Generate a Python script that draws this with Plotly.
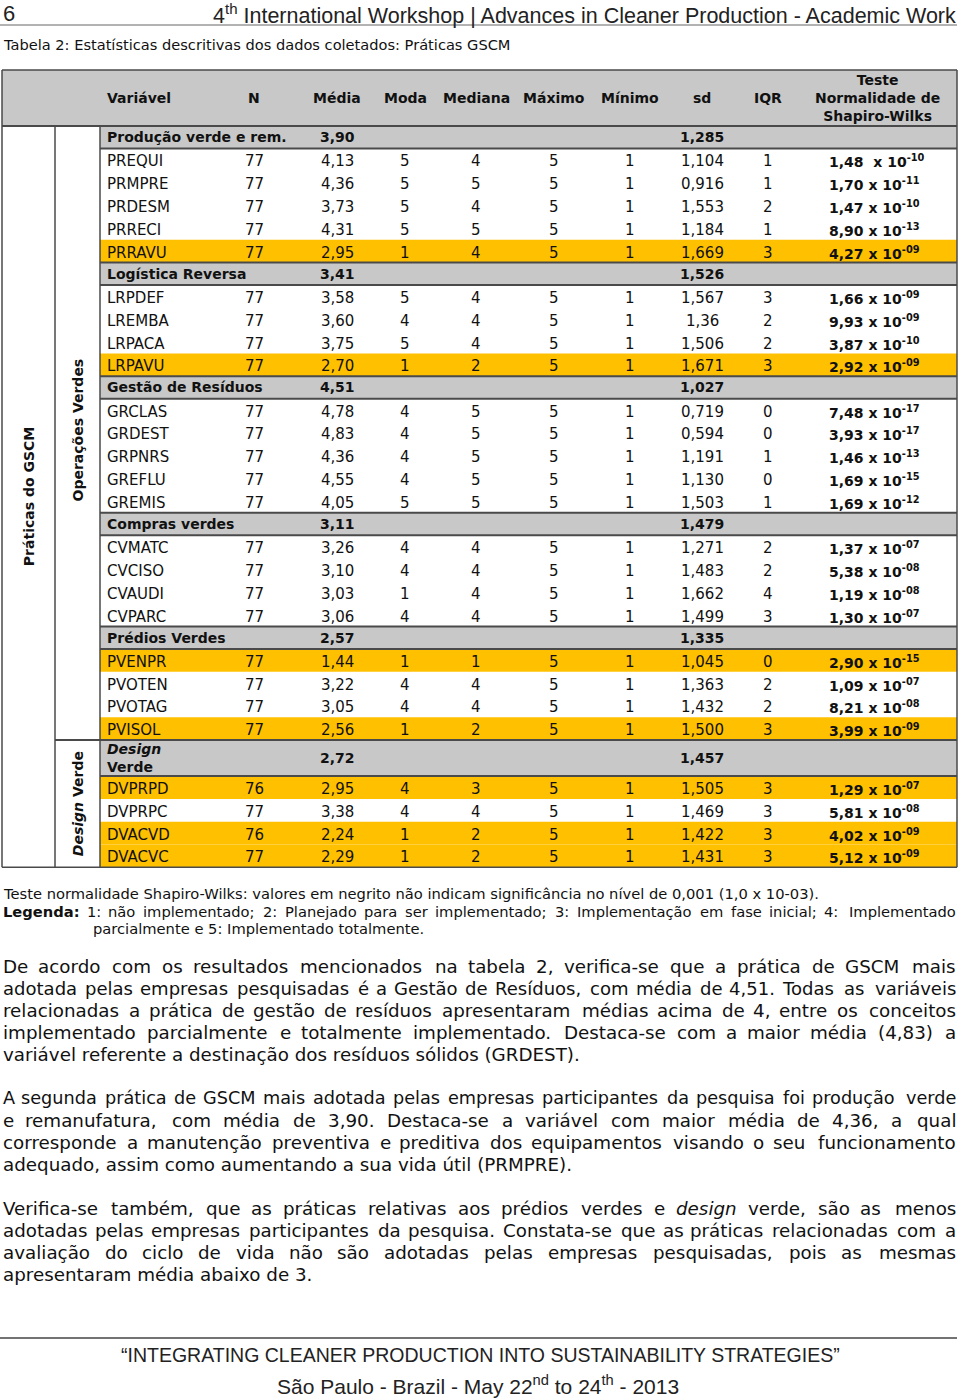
import unicodedata
import re
import plotly.graph_objects as go

# ---------------- data ----------------
col_headers = ["Variável", "N", "Média", "Moda", "Mediana", "Máximo", "Mínimo", "sd", "IQR",
               "Teste<br>Normalidade de<br>Shapiro-Wilks"]

group_names = ["Produção verde e rem.", "Logística Reversa", "Gestão de Resíduos",
               "Compras verdes", "Prédios Verdes", "<i>Design</i><br>Verde"]
group_media = ["3,90", "3,41", "4,51", "3,11", "2,57", "2,72"]
group_sd = ["1,285", "1,526", "1,027", "1,479", "1,335", "1,457"]
group_sizes = [5, 4, 5, 4, 4, 4]

variables = ["PREQUI", "PRMPRE", "PRDESM", "PRRECI", "PRRAVU",
             "LRPDEF", "LREMBA", "LRPACA", "LRPAVU",
             "GRCLAS", "GRDEST", "GRPNRS", "GREFLU", "GREMIS",
             "CVMATC", "CVCISO", "CVAUDI", "CVPARC",
             "PVENPR", "PVOTEN", "PVOTAG", "PVISOL",
             "DVPRPD", "DVPRPC", "DVACVD", "DVACVC"]
n_obs = ["77", "77", "77", "77", "77",
         "77", "77", "77", "77",
         "77", "77", "77", "77", "77",
         "77", "77", "77", "77",
         "77", "77", "77", "77",
         "76", "77", "76", "77"]
media = ["4,13", "4,36", "3,73", "4,31", "2,95",
         "3,58", "3,60", "3,75", "2,70",
         "4,78", "4,83", "4,36", "4,55", "4,05",
         "3,26", "3,10", "3,03", "3,06",
         "1,44", "3,22", "3,05", "2,56",
         "2,95", "3,38", "2,24", "2,29"]
moda = ["5", "5", "5", "5", "1",
        "5", "4", "5", "1",
        "4", "4", "4", "4", "5",
        "4", "4", "1", "4",
        "1", "4", "4", "1",
        "4", "4", "1", "1"]
mediana = ["4", "5", "4", "5", "4",
           "4", "4", "4", "2",
           "5", "5", "5", "5", "5",
           "4", "4", "4", "4",
           "1", "4", "4", "2",
           "3", "4", "2", "2"]
maximo = ["5"] * 26
minimo = ["1"] * 26
sd = ["1,104", "0,916", "1,553", "1,184", "1,669",
      "1,567", "1,36", "1,506", "1,671",
      "0,719", "0,594", "1,191", "1,130", "1,503",
      "1,271", "1,483", "1,662", "1,499",
      "1,045", "1,363", "1,432", "1,500",
      "1,505", "1,469", "1,422", "1,431"]
iqr = ["1", "1", "2", "1", "3",
       "3", "2", "2", "3",
       "0", "0", "1", "0", "1",
       "2", "2", "4", "3",
       "0", "2", "2", "3",
       "3", "3", "3", "3"]
sw_mantissa = ["1,48 ", "1,70", "1,47", "8,90", "4,27",
               "1,66", "9,93", "3,87", "2,92",
               "7,48", "3,93", "1,46", "1,69", "1,69",
               "1,37", "5,38", "1,19", "1,30",
               "2,90", "1,09", "8,21", "3,99",
               "1,29", "5,81", "4,02", "5,12"]
sw_exponent = ["-10", "-11", "-10", "-13", "-09",
               "-09", "-09", "-10", "-09",
               "-17", "-17", "-13", "-15", "-12",
               "-07", "-08", "-08", "-07",
               "-15", "-07", "-08", "-09",
               "-07", "-08", "-09", "-09"]
highlighted = ["PRRAVU", "LRPAVU", "PVENPR", "PVISOL", "DVPRPD", "DVACVD", "DVACVC"]

outer_label = "Práticas do GSCM"
section_labels = ["Operações Verdes", "<i>Design</i> Verde"]
section_group_counts = [5, 1]

page_number = "6"
header_title = "4<sup>th</sup> International Workshop | Advances in Cleaner Production - Academic Work"
caption = "Tabela 2: Estatísticas descritivas dos dados coletados: Práticas GSCM"
note_line = ("Teste normalidade Shapiro-Wilks: valores em negrito não indicam significância "
             "no nível de 0,001 (1,0 x 10-03).")
legend_lines = ["<b>Legenda:</b> 1: não implementado; 2: Planejado para ser implementado; "
                "3: Implementação em fase inicial; 4: Implementado",
                "parcialmente e 5: Implementado totalmente."]
paragraphs = [
    ["De acordo com os resultados mencionados na tabela 2, verifica-se que a prática de GSCM mais",
     "adotada pelas empresas pesquisadas é a Gestão de Resíduos, com média de 4,51. Todas as variáveis",
     "relacionadas a prática de gestão de resíduos apresentaram médias acima de 4, entre os conceitos",
     "implementado parcialmente e totalmente implementado.  Destaca-se com a maior média (4,83) a",
     "variável referente a destinação dos resíduos sólidos (GRDEST)."],
    ["A segunda prática de GSCM mais adotada pelas empresas participantes da pesquisa foi produção verde",
     "e remanufatura, com média de 3,90. Destaca-se a variável com maior média de 4,36, a qual",
     "corresponde a manutenção preventiva e preditiva dos equipamentos visando o seu funcionamento",
     "adequado, assim como aumentando a sua vida útil (PRMPRE)."],
    ["Verifica-se também, que as práticas relativas aos prédios verdes e <i>design</i> verde, são as menos",
     "adotadas pelas empresas participantes da pesquisa. Constata-se que as práticas relacionadas com a",
     "avaliação do ciclo de vida não são adotadas pelas empresas pesquisadas, pois as mesmas",
     "apresentaram média abaixo de 3."],
]
footer_lines = ["\u201cINTEGRATING CLEANER PRODUCTION INTO SUSTAINABILITY STRATEGIES\u201d",
                "São Paulo - Brazil - May 22<sup>nd</sup> to 24<sup>th</sup> - 2013"]

# ---------------- style / layout ----------------
W, H = 960, 1400
FONT = "DejaVu Sans, Verdana, sans-serif"
NARROW = "Liberation Sans, Arial, sans-serif"
INK = "#111111"
GRAY = "#C8C8C8"
YELLOW = "#FFC000"
LINE = "#4a4a4a"

TX0, TX1 = 2, 957          # table outer x
C1, C2 = 55, 100            # inner vertical lines
TOP, HEAD_BOT = 70, 126
GROUP_H, DESIGN_H, ROW_H = 22.5, 36, 22.8
TFS = 15                    # table font size (regular)
BFS = 14                    # table font size (bold)
col_centers = [None, 254, 337, 405, 476, 554, 630, 702, 768]
VAR_X = 107
SW_X = 829
SW_CENTER = 877
PAD = 2.5                   # annotation inner padding compensation

shapes = []
ann = []


def text(x, y, s, size=TFS, xanchor="left", yanchor="middle", family=FONT, color=INK, angle=0,
         align="left", bold=False):
    if angle == 0:
        if xanchor == "left":
            x -= PAD
        elif xanchor == "right":
            x += PAD
    ann.append(dict(x=x, y=y, xref="x", yref="y", text=s, showarrow=False, xanchor=xanchor,
                    yanchor=yanchor, align=align, textangle=angle,
                    font=dict(family=family, size=size, color=color,
                              weight="bold" if bold else "normal")))


def rect(x0, y0, x1, y1, fill, line_color=None, width=0):
    shapes.append(dict(type="rect", xref="x", yref="y", x0=x0, y0=y0, x1=x1, y1=y1,
                       fillcolor=fill, line=dict(width=width, color=line_color or fill), layer="below"))


def hline(x0, x1, y, color=LINE, width=1.5):
    shapes.append(dict(type="line", xref="x", yref="y", x0=x0, x1=x1, y0=y, y1=y,
                       line=dict(color=color, width=width)))


def vline(x, y0, y1, color=LINE, width=1.5):
    shapes.append(dict(type="line", xref="x", yref="y", x0=x, x1=x, y0=y0, y1=y1,
                       line=dict(color=color, width=width)))


# ---------------- page header ----------------
text(3, 13, page_number, size=22, family=NARROW, color="#222")
text(955, 14, header_title, size=21.5, family=NARROW, color="#222", xanchor="right")
hline(0, 957, 25, color="#666", width=1)
text(3, 44, caption, size=14.6)

# ---------------- table ----------------
rect(TX0, TOP, TX1, HEAD_BOT, GRAY)
text(VAR_X, 98, col_headers[0], size=BFS, bold=True)
for i in range(1, 9):
    text(col_centers[i], 98, col_headers[i], size=BFS, xanchor="center", bold=True)
text(SW_CENTER, 98, col_headers[9], size=BFS, xanchor="center", align="center", bold=True)

y = HEAD_BOT
k = 0
group_bounds = []
for g, name in enumerate(group_names):
    gh = DESIGN_H if "<br>" in name else GROUP_H
    rect(C2, y, TX1, y + gh, GRAY)
    cy = y + gh / 2
    text(VAR_X, cy, name, size=BFS, bold=True)
    text(col_centers[2], cy, group_media[g], size=BFS, xanchor="center", bold=True)
    text(col_centers[7], cy, group_sd[g], size=BFS, xanchor="center", bold=True)
    group_bounds.append((y, y + gh))
    y += gh
    for r in range(group_sizes[g]):
        if variables[k] in highlighted:
            rect(C2, y, TX1, y + ROW_H, YELLOW)
        cy = y + ROW_H / 2 + 1.5
        vals = [n_obs[k], media[k], moda[k], mediana[k], maximo[k], minimo[k], sd[k], iqr[k]]
        text(VAR_X, cy, variables[k])
        for j, v in enumerate(vals):
            text(col_centers[j + 1], cy, v, xanchor="center")
        text(SW_X, cy, "%s x 10<sup>%s</sup>" % (sw_mantissa[k], sw_exponent[k]), size=BFS, bold=True)
        y += ROW_H
        k += 1
TBOT = y

for (a, b) in group_bounds:
    hline(C2, TX1, a, width=2)
    hline(C2, TX1, b, width=2)

# section split in column 2
split_y = group_bounds[section_group_counts[0]][0]
hline(C1, C2, split_y, width=2)

# outer frame & verticals
hline(TX0, TX1, TOP, width=1.5)
hline(TX0, TX1, HEAD_BOT, width=2)
hline(TX0, TX1, TBOT, width=1.5)
vline(TX0, TOP, TBOT)
vline(TX1, TOP, TBOT)
vline(C1, HEAD_BOT, TBOT)
vline(C2, HEAD_BOT, TBOT)

# rotated labels
text((TX0 + C1) / 2, (HEAD_BOT + TBOT) / 2, outer_label, size=BFS, xanchor="center", angle=-90, bold=True)
text((C1 + C2) / 2, 430, section_labels[0], size=BFS, xanchor="center", angle=-90, bold=True)
text((C1 + C2) / 2, (split_y + TBOT) / 2, section_labels[1], size=BFS, xanchor="center", angle=-90, bold=True)

# ---------------- notes ----------------
CW = {' ': .318, '!': .401, '(': .390, ')': .390, ',': .318, '-': .361, '.': .318, ':': .337, ';': .337,
      'A': .684, 'B': .686, 'C': .698, 'D': .770, 'E': .632, 'F': .575, 'G': .775, 'H': .752, 'I': .295,
      'J': .295, 'K': .656, 'L': .557, 'M': .863, 'N': .748, 'O': .787, 'P': .603, 'Q': .787, 'R': .695,
      'S': .635, 'T': .611, 'U': .732, 'V': .684, 'W': .989, 'X': .685, 'Y': .611, 'Z': .685,
      'a': .613, 'b': .635, 'c': .550, 'd': .635, 'e': .615, 'f': .352, 'g': .635, 'h': .634, 'i': .278,
      'j': .278, 'k': .579, 'l': .278, 'm': .974, 'n': .634, 'o': .612, 'p': .635, 'q': .635, 'r': .411,
      's': .521, 't': .392, 'u': .634, 'v': .592, 'w': .818, 'x': .592, 'y': .592, 'z': .525}


def width_of(word, size):
    bold = "<b>" in word
    plain = re.sub(r"<[^>]+>", "", word)
    plain = unicodedata.normalize("NFD", plain)
    w = sum(CW.get(c, 0.636 if c.isdigit() else 0.0) for c in plain if not unicodedata.combining(c))
    return w * size * (1.12 if bold else 1.0) * 1.02


def justified(line, y, x0, x1, size):
    words = line.split()
    avail = x1 - x0
    natural = sum(width_of(w, size) for w in words) + (len(words) - 1) * 0.36 * size
    if natural > avail:
        size = size * avail / natural
    widths = [width_of(w, size) for w in words]
    gap = (avail - sum(widths)) / (len(words) - 1)
    x = x0
    for i, w in enumerate(words):
        bold = "<b>" in w
        s = re.sub(r"</?b>", "", w)
        if i == len(words) - 1:
            text(x1, y, s, size=size, xanchor="right", bold=bold)
        else:
            text(x, y, s, size=size, bold=bold)
        x += widths[i] + gap


NFS = 14.7
text(3, 893, note_line, size=NFS)
justified(legend_lines[0], 911, 3, 955, NFS)
text(93, 928, legend_lines[1], size=NFS)

BODY = 18.3
para_starts = [966, 1098, 1208]
for p, lines in enumerate(paragraphs):
    for i, line in enumerate(lines):
        yy = para_starts[p] + 22 * i
        if i == len(lines) - 1:
            text(3, yy, line, size=BODY)
        else:
            justified(line, yy, 3, 955, BODY)

# ---------------- footer ----------------
hline(0, 957, 1338, color="#444", width=1.5)
text(480, 1355, footer_lines[0], size=19.5, family=NARROW, color="#222", xanchor="center")
text(478, 1385, footer_lines[1], size=21, family=NARROW, color="#222", xanchor="center")

fig = go.Figure()
fig.update_layout(
    width=W, height=H, margin=dict(l=0, r=0, t=0, b=0),
    paper_bgcolor="white", plot_bgcolor="white",
    xaxis=dict(range=[0, W], visible=False, fixedrange=True),
    yaxis=dict(range=[H, 0], visible=False, fixedrange=True),
    shapes=shapes, annotations=ann, showlegend=False,
)
fig.write_html("out.html", config={"displayModeBar": False},
               post_script="document.body.style.margin='0';document.body.style.overflow='hidden';")
